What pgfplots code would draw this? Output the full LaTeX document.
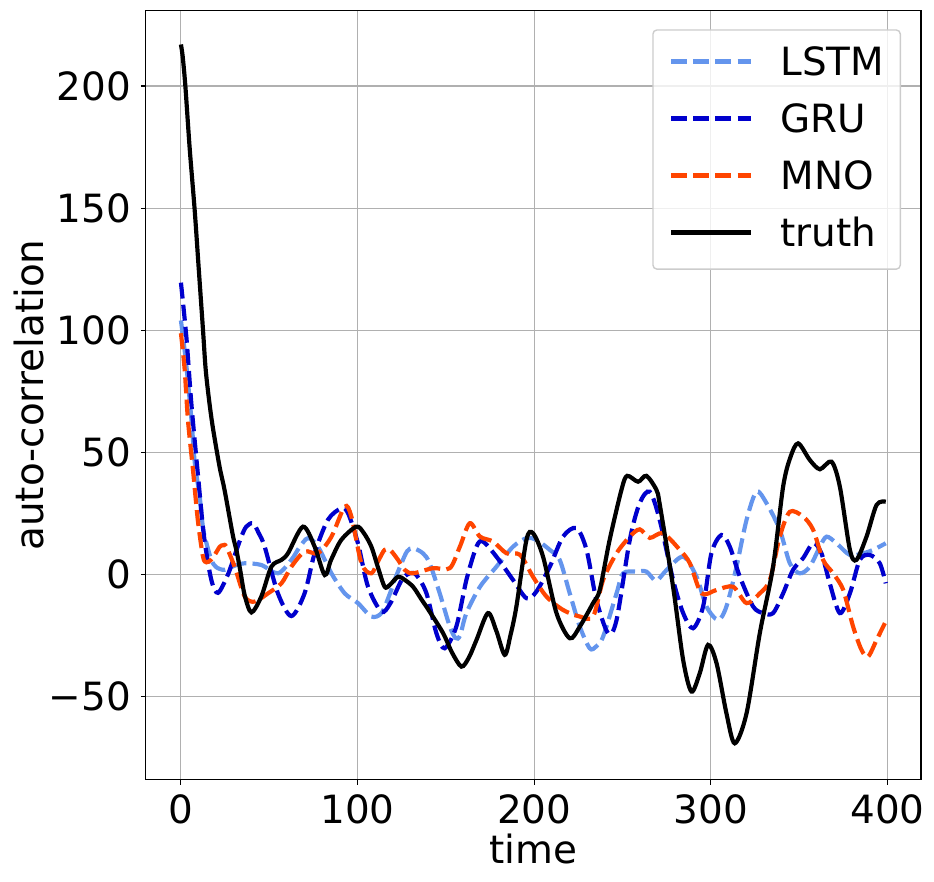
\documentclass[border=0pt]{standalone}
\usepackage{pgfplots}
\pgfplotsset{compat=1.18}
\usepackage{fontspec}
\setmainfont{DejaVu Sans}
\definecolor{lstm}{RGB}{100,149,237}
\definecolor{gru}{RGB}{0,0,205}
\definecolor{mno}{RGB}{255,69,0}
\definecolor{gridc}{RGB}{176,176,176}
\definecolor{legc}{RGB}{204,204,204}
\newcommand{\bigf}{\fontsize{38.9}{46}\selectfont}

\pgfplotstableread{
t v
0 104
3 86
6 63
7.8 46
10.6 32
12.5 19
14.4 13
17.2 6
20 3
24.7 1.9
30 3.5
36.1 4.6
45.5 3.9
54.9 0.5
62.5 6
67 11
71.9 14.9
77.6 11.4
85.2 0.5
92.7 -7.7
100.2 -11.7
107.8 -17.2
113.5 -15.8
118.2 -8
121 -2.2
124.5 4
128 9.5
131.4 10.8
137 8.7
140.8 4.6
146.5 -7.7
152.2 -21.3
155.5 -26
158 -25
161.6 -15.8
169.3 -5
178.6 3.2
188 11.4
195.6 14.9
201.2 14.2
208.8 10.1
214.4 6
220.1 -7.7
225.8 -21.3
231.4 -30.2
235 -29.5
239 -25.4
246.6 -7.7
250.3 0.5
257.9 1.2
263.5 1.2
269 -2.5
275 1.9
284.3 7.3
291.9 -0.9
297.5 -13.1
304.1 -18.6
308.8 -13.1
314.5 3.2
320.2 22.4
325.8 33.9
331.5 29.2
339 18.3
344.7 4.6
350.3 0.5
356 3.2
361.7 11.4
365.5 15.5
371.1 12.8
378.7 8
386.2 8.7
391.9 10.1
399 12.8
}\lstmdata

\pgfplotstableread{
t v
0 119.5
3.1 97
5.9 70
9.6 41
13 16
17.2 -2.2
21 -7.5
26.6 0
30.5 8
34.2 15.5
37 19.6
40.8 21
44 17
47.4 11.4
54.9 -7.7
62.5 -17
70 -7.7
75.7 8.7
83.2 22.4
90.8 27.1
94.6 25.1
100.2 12.8
105.9 -5
113.5 -15.2
118.6 -11.7
125 -2.2
129.5 0.5
133.3 -0.2
139 -7.7
144.6 -24
149.3 -30.2
155.9 -21.3
161.6 -2.2
167.3 11.4
171 13.5
178.6 7.3
188 -2.2
195.6 -9.7
201.2 -7
208.8 3.2
216.3 15.5
223.9 19
229.6 10.1
235.2 -10.4
241.8 -24
246.6 -18.6
254.1 14.2
259.7 29.2
265.4 33.9
271 22.4
278.6 -2.2
284.3 -15.8
289.9 -22
295.6 -13.1
300.3 8.7
306 16.2
310.7 11.4
316.4 -0.9
323.9 -13.1
329.6 -15.8
335.2 -15.8
340.9 -7.7
346.5 1.9
352.2 6.7
357.9 12.8
362.6 8.7
367.3 -3.6
373 -15.8
378.7 -7.7
384.3 6
390 8
395.6 4.6
399 -3.6
}\grudata

\pgfplotstableread{
t v
0 98.8
2.1 84
4 63
6.8 43
9.6 22
12.5 7.3
14.4 5
17 6
19.1 8
22 11.4
24 12
25.7 11.4
30.4 3.2
36.1 -9
41.7 -11.1
49.3 -7.7
56.9 -3.6
62.5 3.2
70 9.4
77.6 8.7
85.2 15.5
92.7 27.8
96.5 23.7
102.2 4.6
107.8 0.5
112 6
115.3 10.1
118.5 10
122.9 6
126.7 1.9
131.4 0.5
142.7 2.6
152.2 2.6
157.9 11.4
163.5 21
169.3 15.5
176.7 13.5
184.3 8.7
191.9 8.1
199.3 -0.9
206.9 -9
216.3 -14.5
225.8 -17.2
233.3 -17.2
239 -2.2
246.6 8.7
254.1 15.5
259.7 18.5
265.4 15
272.9 16.9
282.4 10.1
288.1 4.6
294.7 -7.7
303.2 -6.3
312.6 -5
320.2 -11.7
327.7 -7.7
333.4 -2.2
339 15.5
344.7 25.7
352.2 23.7
357.9 18.3
363.5 6
369.2 0.5
374.9 -6.3
380.5 -21.3
385.3 -30.9
389 -33.6
393.8 -26.8
398.5 -19.9
}\mnodata

\pgfplotstableread{
t v
0 217
1 212
2.5 200
5 174
7.8 149
10 126
12.5 100
14 84
16 71
18.1 60
21.9 44
24.7 34.6
29.4 16
31.4 10
33.5 2
36.1 -8.5
39.9 -15.5
45.5 -9
51.2 3.2
56.9 6
60.6 8.7
69.1 19.6
75.7 11.4
81.4 -0.2
85 6
90.8 14.2
99.3 19.6
103.5 17
107.8 11.4
111.5 3
115.3 -5
118.2 -4.3
122.9 -0.9
126.7 -2.2
131.4 -5
136 -10
140.8 -15.2
148.4 -24
153.5 -32
158.8 -37.7
163 -34
167.3 -26.8
173.8 -15.8
178.5 -23
183.3 -32.9
186.5 -25
189.9 -13.1
195.6 14.2
199.3 16.9
205 7.3
212.6 -15.8
220.1 -26.1
225.8 -21.3
233.3 -11.7
237.1 -6.3
242.7 14.2
249.5 35
252.6 40.4
258.8 38
263.5 40.4
269.2 34.6
271.1 28.5
278.6 -5
284.3 -35
289 -47.9
293.7 -40.4
298.4 -28.8
303.2 -36.3
308.8 -56.8
313.5 -69.1
320.2 -56.8
327.7 -24
335.2 3.2
340.9 36
345 48
349.4 53.7
356 46.9
361.7 43.1
368.3 46.2
373 36
378.7 10.1
382.4 6
388.1 15.5
393.8 28.5
399 29.8
}\truthdata

\begin{document}
\begin{tikzpicture}
\begin{axis}[name=ax,
  scale only axis, width=775.3pt, height=769.4pt,
  xmin=-19.95, xmax=418.95, ymin=-84, ymax=231,
  xtick={0,100,200,300,400},
  xticklabels={0,100,200,300,400},
  ytick={-50,0,50,100,150,200},
  yticklabels={−50,0,50,100,150,200},
  xtick pos=lower, ytick pos=left,
  tick align=outside, major tick length=4.9pt,
  tick style={black, line width=1.11pt},
  axis line style={line width=1.11pt},
  grid=major, major grid style={gridc, line width=1.11pt},
  xticklabel style={font=\bigf, anchor=base, inner sep=0pt, yshift=-39.3pt},
  yticklabel style={font=\bigf, anchor=east, inner sep=0pt, xshift=-9.8pt},
  xlabel={time}, ylabel={auto-correlation},
  xlabel style={font=\bigf, at={(axis description cs:0.5,-0.1087)}, anchor=base, inner sep=0pt},
  ylabel style={font=\bigf, at={(axis description cs:-0.1321,0.5)}, anchor=base, inner sep=0pt},
  legend cell align=left,
  legend style={at={(axis description cs:0.9742,0.9753)}, anchor=north east,
    draw=legc, line width=1.39pt, rounded corners=4pt, fill=white, fill opacity=0.8, text opacity=1,
    font=\bigf, inner xsep=16pt, inner ysep=13.7pt, row sep=16.3pt, column sep=27.5pt,
    nodes={inner sep=0pt, text height=32pt, text depth=8.7pt}},
  legend image code/.code={\draw[#1, rounded corners=0pt] (0pt,2.55pt) -- (80pt,2.55pt);},
  every axis plot/.append style={line width=4.17pt, smooth, tension=0.5},
]
\addplot[lstm, dash pattern=on 16pt off 6.2pt] table[x=t,y=v] {\lstmdata};
\addlegendentry{LSTM}
\addplot[gru, dash pattern=on 16pt off 6.2pt] table[x=t,y=v] {\grudata};
\addlegendentry{GRU}
\addplot[mno, dash pattern=on 16pt off 6.2pt] table[x=t,y=v] {\mnodata};
\addlegendentry{MNO}
\addplot[black, solid] table[x=t,y=v] {\truthdata};
\addlegendentry{truth}
\end{axis}
\pgfresetboundingbox
\path ([shift={(-145.7pt,-101.3pt)}]ax.south west) rectangle ([shift={(13pt,10.3pt)}]ax.north east);
\end{tikzpicture}
\end{document}
